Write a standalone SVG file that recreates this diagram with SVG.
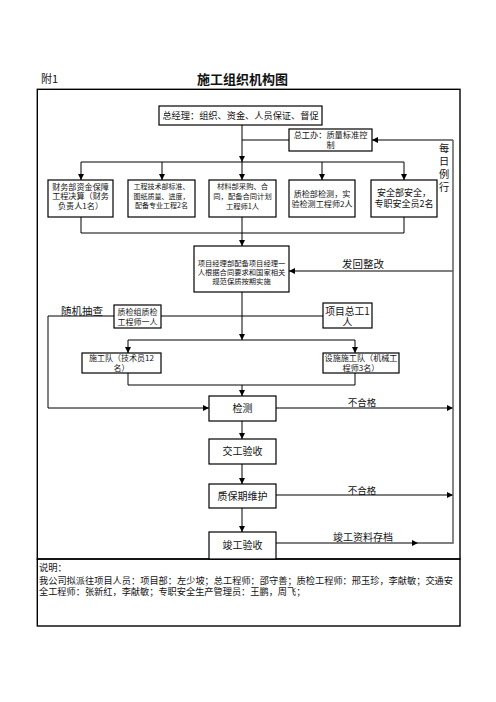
<svg xmlns="http://www.w3.org/2000/svg" width="496" height="702" viewBox="0 0 496 702">
<defs>
<style>
text{font-family:"Noto Sans CJK SC","Liberation Sans",sans-serif;fill:#111}
.m{text-anchor:middle}
.box{fill:#fff;stroke:#000;stroke-width:1.2}
.frame{fill:none;stroke:#000;stroke-width:1.4}
.c{fill:none;stroke:#000;stroke-width:1}
.g{fill:none;stroke:#555;stroke-width:1.4}
</style>
<marker id="a" markerUnits="userSpaceOnUse" markerWidth="6" markerHeight="6" refX="6" refY="3" orient="auto">
<path d="M0,0 L6,3 L0,6 z" fill="#000"/>
</marker>
</defs>
<rect width="496" height="702" fill="#fff"/>
<text x="41" y="83" font-size="11" fill="#333">附1</text>
<text x="242.5" y="84" font-size="13" font-weight="bold" class="m">施工组织机构图</text>
<rect class="frame" x="37.3" y="89.3" width="422.7" height="469.7"/>
<rect class="frame" x="37.3" y="559" width="422.7" height="67"/>

<g id="connectors">
<line class="c" x1="242" y1="125" x2="242" y2="162" marker-end="url(#a)"/>
<line class="c" x1="242" y1="140" x2="289" y2="140"/>
<line class="c" x1="81" y1="162" x2="404" y2="162"/>
<line class="c" x1="81" y1="162" x2="81" y2="180" marker-end="url(#a)"/>
<line class="c" x1="162" y1="162" x2="162" y2="180" marker-end="url(#a)"/>
<line class="c" x1="242" y1="162" x2="242" y2="180" marker-end="url(#a)"/>
<line class="c" x1="322" y1="162" x2="322" y2="180" marker-end="url(#a)"/>
<line class="c" x1="404" y1="162" x2="404" y2="180" marker-end="url(#a)"/>
<polyline class="c" points="81,217 81,233 404,233 404,217"/>
<line class="c" x1="242" y1="217" x2="242" y2="246" marker-end="url(#a)"/>
<line class="c" x1="242" y1="292" x2="242" y2="340" marker-end="url(#a)"/>
<line class="c" x1="128" y1="340" x2="355" y2="340"/>
<line class="c" x1="128" y1="340" x2="128" y2="353" marker-end="url(#a)"/>
<line class="c" x1="355" y1="340" x2="355" y2="353" marker-end="url(#a)"/>
<line class="c" x1="161" y1="316" x2="323" y2="316"/>
<polyline class="c" points="114,316 48,316 48,408 209,408" marker-end="url(#a)"/>
<polyline class="c" points="128,373 128,385 355,385 355,373"/>
<line class="c" x1="242" y1="385" x2="242" y2="396" marker-end="url(#a)"/>
<line class="c" x1="242" y1="421" x2="242" y2="439" marker-end="url(#a)"/>
<line class="c" x1="242" y1="464" x2="242" y2="484" marker-end="url(#a)"/>
<line class="c" x1="242" y1="508" x2="242" y2="532" marker-end="url(#a)"/>
<line class="g" x1="276" y1="408" x2="453" y2="408" marker-end="url(#a)"/>
<line class="g" x1="276" y1="495" x2="453" y2="495" marker-end="url(#a)"/>
<line class="g" x1="276" y1="543" x2="418" y2="543" marker-end="url(#a)"/>
<polyline class="g" points="418,543 453,543 453,140"/>
<line class="g" x1="453" y1="140" x2="372" y2="140" marker-end="url(#a)"/>
<line class="g" x1="453" y1="271" x2="289" y2="271" marker-end="url(#a)"/>
<text x="444" y="152" font-size="10.2" class="m" fill="#333">每</text>
<text x="444" y="165" font-size="10.2" class="m" fill="#333">日</text>
<text x="444" y="178" font-size="10.2" class="m" fill="#333">例</text>
<text x="444" y="191" font-size="10.2" class="m" fill="#333">行</text>
<text x="363" y="268" font-size="10.5" class="m">发回整改</text>
<text x="82" y="315" font-size="10.5" class="m">随机抽查</text>
<text x="362" y="405.5" font-size="9.5" class="m">不合格</text>
<text x="362" y="494" font-size="9.5" class="m">不合格</text>
<text x="363" y="541" font-size="10" class="m">竣工资料存档</text>
</g>

<g id="gm"><rect class="box" x="159" y="106" width="163" height="19"/>
<text x="240.5" y="118.5" font-size="9.2" class="m">总经理：组织、资金、人员保证、督促</text></g>
<g id="zgb"><rect class="box" x="289" y="129" width="83" height="22"/>
<text x="330.5" y="138" font-size="8.2" class="m">总工办：质量标准控</text>
<text x="330.5" y="148" font-size="8.2" class="m">制</text></g>

<g id="cw"><rect class="box" x="48" y="180" width="65" height="37"/>
<text x="80.5" y="189.7" font-size="8.1" class="m">财务部资金保障</text>
<text x="80.5" y="199.2" font-size="8.1" class="m">工程决算（财务</text>
<text x="80.5" y="208.7" font-size="8.1" class="m">负责人1名）</text></g>
<g id="js"><rect class="box" x="128" y="180" width="67" height="37"/>
<text x="161.5" y="189.3" font-size="7" class="m">工程技术部标准、</text>
<text x="161.5" y="198.5" font-size="7" class="m">图纸质量、进度，</text>
<text x="161.5" y="207.7" font-size="7" class="m">配备专业工程2名</text></g>
<g id="cl"><rect class="box" x="209" y="180" width="67" height="37"/>
<text x="242.5" y="189" font-size="7.3" class="m">材料部采购、合</text>
<text x="242.5" y="199" font-size="7.3" class="m">同，配备合同计划</text>
<text x="242.5" y="209" font-size="7.3" class="m">工程师1人</text></g>
<g id="zj"><rect class="box" x="289" y="180" width="66" height="37"/>
<text x="322" y="196.5" font-size="8.1" class="m">质检部检测，实</text>
<text x="322" y="206.5" font-size="8.1" class="m">验检测工程师2人</text></g>
<g id="aq"><rect class="box" x="371" y="180" width="66" height="37"/>
<text x="404" y="196" font-size="9" class="m">安全部安全，</text>
<text x="404" y="206.5" font-size="9" class="m">专职安全员2名</text></g>

<g id="xmb"><rect class="box" x="194" y="246" width="95" height="46"/>
<text x="241.5" y="266.2" font-size="7.3" class="m">项目经理部配备项目经理一</text>
<text x="241.5" y="274.9" font-size="7.3" class="m">人根据合同要求和国家相关</text>
<text x="241.5" y="283.6" font-size="7.3" class="m">规范保质按期实施</text></g>

<g id="zjz"><rect class="box" x="114" y="305" width="47" height="23"/>
<text x="137.5" y="314.5" font-size="8" class="m">质检组质检</text>
<text x="137.5" y="324.8" font-size="8" class="m">工程师一人</text></g>
<g id="xmzg"><rect class="box" x="323" y="303" width="49" height="25"/>
<text x="347.5" y="314.5" font-size="9.8" class="m">项目总工1</text>
<text x="347.5" y="326.3" font-size="9.8" class="m">人</text></g>

<g id="sgd"><rect class="box" x="82" y="353" width="79" height="20"/>
<text x="121.5" y="361" font-size="8" class="m">施工队（技术员12</text>
<text x="121.5" y="371" font-size="8" class="m">名）</text></g>
<g id="sssgd"><rect class="box" x="323" y="353" width="76" height="20"/>
<text x="361" y="361" font-size="8.1" class="m">设施施工队（机械工</text>
<text x="361" y="371" font-size="8.1" class="m">程师3名）</text></g>

<g id="jc"><rect class="box" x="209" y="396" width="67" height="25"/>
<text x="242.5" y="412.3" font-size="10" class="m">检测</text></g>
<g id="jgys"><rect class="box" x="209" y="439" width="67" height="25"/>
<text x="242.5" y="455.3" font-size="10" class="m">交工验收</text></g>
<g id="zbq"><rect class="box" x="209" y="484" width="67" height="24"/>
<text x="242.5" y="499.8" font-size="10" class="m">质保期维护</text></g>
<g id="jungong"><rect class="box" x="209" y="532" width="67" height="27"/>
<text x="242.5" y="548.8" font-size="10" class="m">竣工验收</text></g>

<g id="notes">
<text x="39" y="570.5" font-size="9.3">说明：</text>
<text x="39" y="583.5" font-size="9.2" textLength="414" lengthAdjust="spacing">我公司拟派往项目人员：项目部：左少坡；总工程师：邵守善；质检工程师：邢玉珍，李献敏；交通安</text>
<text x="39" y="595" font-size="9.2">全工程师：张新红，李献敏；专职安全生产管理员：王鹏，周飞；</text>
</g>
</svg>
